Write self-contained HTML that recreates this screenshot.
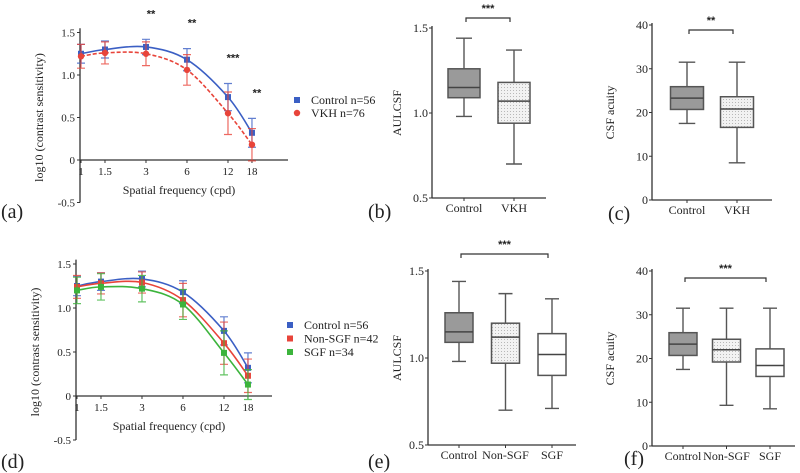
<!DOCTYPE html>
<html><head><meta charset="utf-8">
<style>
html,body{margin:0;padding:0;background:#fff;}
svg{display:block;}
svg text{font-family:"Liberation Serif","DejaVu Serif",serif;fill:#222;}
svg text.st{font-family:"Liberation Sans",sans-serif;font-weight:bold;font-size:11px;}
</style></head>
<body>
<svg id="fig" width="800" height="473" viewBox="0 0 800 473" xmlns="http://www.w3.org/2000/svg" font-family="Liberation Serif, serif">
<defs>
<pattern id="dots" width="3" height="3" patternUnits="userSpaceOnUse"><rect width="3" height="3" fill="#f2f2f2"/><rect width="1" height="1" fill="#b8b8b8"/></pattern>
</defs>
</svg>
<script>
// ---- data ----
const freqs = [1, 1.5, 3, 6, 12, 18];
const freqLabels = ["1","1.5","3","6","12","18"];
const csfTicks = [1.5, 1.0, 0.5, 0, -0.5];
const csfTickLabels = ["1.5","1.0","0.5","0","-0.5"];
const controlMean = [1.25, 1.30, 1.33, 1.18, 0.74, 0.32];
const controlErr  = [0.11, 0.10, 0.09, 0.13, 0.16, 0.17];
const vkhMean = [1.22, 1.26, 1.25, 1.06, 0.55, 0.18];
const vkhErr  = [0.14, 0.13, 0.14, 0.18, 0.25, 0.19];
const nonSgfMean = [1.24, 1.28, 1.29, 1.09, 0.60, 0.23];
const nonSgfErr  = [0.13, 0.12, 0.12, 0.19, 0.24, 0.19];
const sgfMean = [1.20, 1.24, 1.22, 1.04, 0.49, 0.13];
const sgfErr  = [0.15, 0.15, 0.15, 0.17, 0.25, 0.17];
const starsA = ["", "", "**", "**", "***", "**"];
// boxplots: [min, q1, median, q3, max]
const aulGroupsB = ["Control","VKH"];
const aulBoxB = [[0.98,1.09,1.15,1.26,1.44],[0.70,0.94,1.07,1.18,1.37]];
const acuGroupsC = ["Control","VKH"];
const acuBoxC = [[17.5,20.7,23.3,25.9,31.5],[8.5,16.6,20.8,23.6,31.5]];
const aulGroupsE = ["Control","Non-SGF","SGF"];
const aulBoxE = [[0.98,1.09,1.15,1.26,1.44],[0.70,0.97,1.12,1.20,1.37],[0.71,0.90,1.02,1.14,1.34]];
const acuGroupsF = ["Control","Non-SGF","SGF"];
const acuBoxF = [[17.5,20.7,23.3,25.9,31.5],[9.3,19.2,22.0,24.4,31.5],[8.5,15.9,18.4,22.2,31.5]];
const aulTicks = [1.5,1.0,0.5]; const aulTickLabels=["1.5","1.0","0.5"];
const acuTicks = [40,30,20,10,0]; const acuTickLabels=["40","30","20","10","0"];

const svg = document.getElementById('fig');
const NS = "http://www.w3.org/2000/svg";
function el(tag, attrs, parent){ const e=document.createElementNS(NS,tag); for(const k in attrs) e.setAttribute(k,attrs[k]); (parent||svg).appendChild(e); return e; }
function txt(x,y,s,attrs,parent){ const a=Object.assign({x:x,y:y,'font-family':'Liberation Serif, serif'},attrs||{}); if(a.class==='st') a['font-family']='Liberation Sans, sans-serif'; const t=el('text',a,parent); t.textContent=s; return t; }

function csfPanel(o){
  const g=el('g',{});
  
  
  const X=f=>o.x0+Math.log10(f)*o.kx;
  const Y=v=>o.y0-v*o.ky;
  el('line',{x1:o.ax,y1:Y(1.55),x2:o.ax,y2:Y(-0.5),stroke:'#333','stroke-width':1.3},g);
  el('line',{x1:o.ax,y1:Y(0),x2:o.xEnd,y2:Y(0),stroke:'#333','stroke-width':1.3},g);
  csfTicks.forEach((v,i)=>{ el('line',{x1:o.ax-3,y1:Y(v),x2:o.ax,y2:Y(v),stroke:'#333'},g);
    txt(o.ax-5,Y(v)+4,csfTickLabels[i],{'font-size':11,'text-anchor':'end'},g);});
  freqs.forEach((f,i)=>{ el('line',{x1:X(f),y1:Y(0),x2:X(f),y2:Y(0)+3,stroke:'#333'},g);
    txt(X(f),Y(0)+15,freqLabels[i],{'font-size':11,'text-anchor':'middle'},g);});
  const xt=txt((o.ax+o.xEnd)/2-5,Y(0)+34,'Spatial frequency  (cpd)',{'font-size':12,'text-anchor':'middle'},g);
   
  const yt=txt(0,0,'log10  (contrast  sensitivity)',{'font-size':12,'text-anchor':'middle',transform:`translate(${o.ax-37},${Y(0.5)}) rotate(-90)`},g);
   
  o.series.forEach(s=>{
    const pts=freqs.map((f,i)=>[X(f),Y(s.mean[i])]);
    let d=`M${pts[0][0]},${pts[0][1]}`;
    for(let i=0;i<pts.length-1;i++){
      const p0=pts[Math.max(0,i-1)],p1=pts[i],p2=pts[i+1],p3=pts[Math.min(pts.length-1,i+2)];
      d+=` C${p1[0]+(p2[0]-p0[0])/6},${p1[1]+(p2[1]-p0[1])/6} ${p2[0]-(p3[0]-p1[0])/6},${p2[1]-(p3[1]-p1[1])/6} ${p2[0]},${p2[1]}`;
    }
    const c=el('path',{d:d,fill:'none',stroke:s.color,'stroke-width':1.6,'stroke-dasharray':s.dash||'none'},g);
     
    freqs.forEach((f,i)=>{
      const x=X(f),y1=Y(s.mean[i]+s.err[i]),y2=Y(s.mean[i]-s.err[i]);
      const eb=el('path',{d:`M${x},${y1}V${y2}M${x-4},${y1}H${x+4}M${x-4},${y2}H${x+4}`,stroke:s.color,'stroke-width':1.2,fill:'none',opacity:0.8},g);
       
      let m;
      if(s.shape==='circle') m=el('circle',{cx:x,cy:Y(s.mean[i]),r:3.2,fill:s.color},g);
      else m=el('rect',{x:x-3,y:Y(s.mean[i])-3,width:6,height:6,fill:s.color},g);
       
    });
  });
  if(o.stars) freqs.forEach((f,i)=>{ if(o.stars[i]){ const t=txt(X(f)+5,Y(o.series[0].mean[i]+o.series[0].err[i])-22,o.stars[i],{class:'st','text-anchor':'middle','font-size':11,'font-weight':'bold'},g);
     }});
  o.series.forEach((s,i)=>{
    const ly=o.legY+i*o.legDy;
    let m;
    if(s.shape==='circle') m=el('circle',{cx:o.legX,cy:ly,r:3.2,fill:s.color},g);
    else m=el('rect',{x:o.legX-3,y:ly-3,width:6,height:6,fill:s.color},g);
     
    const t=txt(o.legX+14,ly+4,s.label,{'font-size':12},g);
     
  });
}

function boxPanel(o){
  const g=el('g',{});
  
  
  const Y=v=>o.yTop+(o.vTop-v)/(o.vTop-o.vBot)*(o.yBot-o.yTop);
  el('line',{x1:o.ax,y1:o.yTop-2,x2:o.ax,y2:o.yBot,stroke:'#333','stroke-width':1.3},g);
  el('line',{x1:o.ax,y1:o.yBot,x2:o.xEnd,y2:o.yBot,stroke:'#333','stroke-width':1.3},g);
  o.ticks.forEach((v,i)=>{ el('line',{x1:o.ax-3,y1:Y(v),x2:o.ax,y2:Y(v),stroke:'#333'},g);
    txt(o.ax-4,Y(v)+4,o.tickLabels[i],{'font-size':12,'text-anchor':'end'},g);});
  const yt=txt(0,0,o.ylabel,{'font-size':12,'text-anchor':'middle',transform:`translate(${o.ylx},${(o.yTop+o.yBot)/2}) rotate(-90)`},g);
   
  o.groups.forEach((name,i)=>{
    const cx=o.cx0+i*o.dx, b=o.boxes[i], w=o.bw;
    el('line',{x1:cx,y1:o.yBot,x2:cx,y2:o.yBot+3,stroke:'#333'},g);
    const lab=txt(cx,o.yBot+14,name,{'font-size':12,'text-anchor':'middle'},g);
     
    el('path',{d:`M${cx},${Y(b[4])}V${Y(b[3])}M${cx},${Y(b[1])}V${Y(b[0])}M${cx-w/4},${Y(b[4])}H${cx+w/4}M${cx-w/4},${Y(b[0])}H${cx+w/4}`,stroke:'#555','stroke-width':1.4,fill:'none'},g);
    const fill=i===0?'#9a9a9a':(o.whiteLast&&i===2?'#fff':'url(#dots)');
    const r=el('rect',{x:cx-w/2,y:Y(b[3]),width:w,height:Y(b[1])-Y(b[3]),fill:fill,stroke:'#555','stroke-width':1.5},g);
     
    el('line',{x1:cx-w/2,y1:Y(b[2]),x2:cx+w/2,y2:Y(b[2]),stroke:'#444','stroke-width':1.5},g);
  });
  const x1=o.cx0+2,x2=o.cx0+(o.groups.length-1)*o.dx-4;
  el('path',{d:`M${x1},${o.brY+4}V${o.brY}H${x2}V${o.brY+4}`,stroke:'#333','stroke-width':1.2,fill:'none'},g);
  const s=txt((x1+x2)/2,o.brY-6,o.stars,{class:'st','text-anchor':'middle','font-size':11,'font-weight':'bold'},g);
   
}

csfPanel({name:'panel-a-csf-chart',x0:81,kx:136.2,y0:160,ky:85,ax:80,xEnd:288,legX:297,legY:100,legDy:13,stars:starsA,
  series:[{key:'control',label:'Control n=56',mean:controlMean,err:controlErr,color:'#3b5fc4',shape:'square'},
          {key:'vkh',label:'VKH n=76',mean:vkhMean,err:vkhErr,color:'#e8443a',shape:'circle',dash:'4,2'}]});
csfPanel({name:'panel-d-csf-chart',x0:77,kx:136.2,y0:396,ky:88,ax:76,xEnd:272,legX:290,legY:325,legDy:13.5,
  series:[{key:'control',label:'Control n=56',mean:controlMean,err:controlErr,color:'#3b5fc4',shape:'square'},
          {key:'non-sgf',label:'Non-SGF n=42',mean:nonSgfMean,err:nonSgfErr,color:'#e8443a',shape:'square'},
          {key:'sgf',label:'SGF  n=34',mean:sgfMean,err:sgfErr,color:'#3cb43c',shape:'square'}]});
boxPanel({name:'panel-b-aulcsf-box',ax:432,xEnd:546,yTop:28,yBot:198,vTop:1.5,vBot:0.5,ticks:aulTicks,tickLabels:aulTickLabels,
  ylabel:'AULCSF',ylx:401,groups:aulGroupsB,boxes:aulBoxB,cx0:464,dx:50,bw:32,brY:18,stars:'***'});
boxPanel({name:'panel-c-acuity-box',ax:652,xEnd:772,yTop:25,yBot:200,vTop:40,vBot:0,ticks:acuTicks,tickLabels:acuTickLabels,
  ylabel:'CSF  acuity',ylx:614,groups:acuGroupsC,boxes:acuBoxC,cx0:687,dx:50,bw:33,brY:30,stars:'**'});
boxPanel({name:'panel-e-aulcsf-box',ax:428,xEnd:576,yTop:271,yBot:445,vTop:1.5,vBot:0.5,ticks:aulTicks,tickLabels:aulTickLabels,
  ylabel:'AULCSF',ylx:401,groups:aulGroupsE,boxes:aulBoxE,cx0:459,dx:46.5,bw:28,brY:254,stars:'***',whiteLast:true});
boxPanel({name:'panel-f-acuity-box',ax:652,xEnd:795,yTop:271,yBot:446,vTop:40,vBot:0,ticks:acuTicks,tickLabels:acuTickLabels,
  ylabel:'CSF acuity',ylx:614,groups:acuGroupsF,boxes:acuBoxF,cx0:683,dx:43.5,bw:28,brY:278,stars:'***',whiteLast:true});

[['(a)',1,218],['(b)',368,218],['(c)',608,220],['(d)',1,468],['(e)',368,468],['(f)',624,465]].forEach(p=>{
  const t=txt(p[1],p[2],p[0],{'font-size':20});
  
  
});
</script>
</body></html>
